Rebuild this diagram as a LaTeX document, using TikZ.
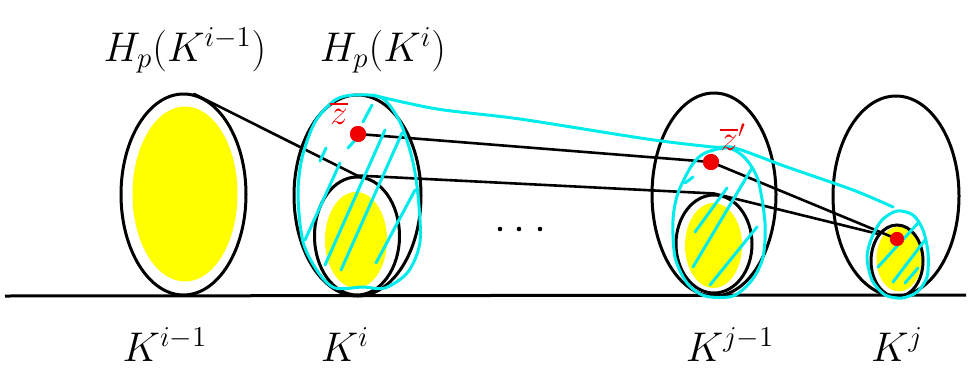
\documentclass[tikz,border=0pt]{standalone}
\usepackage{amsmath}
\usepackage{tikz}
\usetikzlibrary{shapes.geometric}
\definecolor{hullcyan}{RGB}{0,235,235}
\definecolor{fillyellow}{RGB}{255,255,0}
\definecolor{ptred}{RGB}{240,0,0}

\begin{document}
\begin{tikzpicture}[x=1pt,y=-1pt,
    kset/.style={ellipse,draw=black,line width=3pt},
    core/.style={ellipse,fill=fillyellow,draw=none},
    hull/.style={draw=hullcyan,line width=3pt,line cap=round,line join=round},
    seg/.style={draw=black,line width=2.6pt,line cap=round},
    zpt/.style={circle,fill=ptred,inner sep=0pt,minimum size=16pt},
    lab/.style={font=\huge,scale=2},
    zlab/.style={text=ptred,font=\huge,scale=1.7,inner sep=0pt}]
\useasboundingbox (0,0) rectangle (971,391);

% yellow cores
\node[core,minimum width=105pt,minimum height=175pt] (Y1) at (185,194) {};
\node[core,minimum width=62pt,minimum height=96pt] (Y2) at (356,240) {};
\node[core,minimum width=57pt,minimum height=85pt] (Y3) at (713.5,245.5) {};
\node[core,minimum width=45pt,minimum height=65pt] (Y4) at (899,259) {};

% ground line
\coordinate (gl) at (5,296);
\coordinate (gr) at (966,295);
\draw[line width=3pt] (gl) -- (gr);

% the sets K
\node[kset,minimum width=125pt,minimum height=201pt] (K1) at (183.5,194.5) {};
\node[kset,minimum width=127pt,minimum height=201pt] (K2) at (357.5,195.5) {};
\node[kset,minimum width=85pt,minimum height=118pt] (K2in) at (357,236) {};
\node[kset,minimum width=124pt,minimum height=203pt] (K3) at (714,194.5) {};
\node[kset,minimum width=76pt,minimum height=98pt] (K3in) at (714,244) {};
\node[kset,minimum width=126pt,minimum height=200pt] (K4) at (896,196) {};
\node[kset,minimum width=52pt,minimum height=72pt] (K4in) at (897,261) {};

% points
\node[zpt] (zbar) at (358,134) {};
\node[zpt] (zpr) at (711,162) {};
\node[zpt,minimum size=14pt] (zj) at (897,239) {};

\draw[seg] (K1.84) -- (K2in.north) -- (K3in.north) -- (K4in.125);
\draw[seg] (zbar) -- (zpr) -- (zj);

% hulls
\draw[hull] plot[smooth cycle] coordinates {(355,95) (382,98) (400,122) (412,158) (418,195) (420,242) (408,272) (385,288) (363,287) (335,288) (318,272) (303,242) (298,195) (302,158) (315,122) (335,100)};
\draw[hull] plot[smooth] coordinates {(372,95) (437,109) (520,119) (647,139) (713,147) (735,148) (787,167) (853,190) (893,207)};
\draw[hull] plot[smooth cycle] coordinates {(728,148) (745,158) (758,180) (765,223) (763,257) (752,280) (733,296) (705,296) (687,283) (675,257) (673,220) (678,193) (692,165) (705,153)};
\draw[hull] plot[smooth cycle] coordinates {(897,211) (913,215) (923,230) (928,253) (927,277) (917,292) (902,298) (885,295) (872,280) (867,257) (872,237) (882,220)};

% hatching
\foreach \xa/\ya/\xb/\yb in {305/240/340/163, 320/161/326/148, 325/265/385/130,
    341/270/402/133, 376/263/415/190, 348/148/357/138, 363/122/372/105,
    695/232/727/188, 693/267/752/168, 710/285/757/227, 685/183/693/177,
    878/267/918/223, 893/282/925/240, 905/283/918/268}
  \draw[hull] (\xa,\ya) -- (\xb,\yb);

\node[zpt] at (zbar) {};
\node[zpt] at (zpr) {};
\node[zpt,minimum size=14pt] at (zj) {};

% dots
\foreach \x in {500,519,540}
  \fill (\x,229) circle (2.3);

% labels
\node[lab] (HK1) at (185,50) {$H_p(K^{i-1})$};
\node[lab] (HK2) at (383,50) {$H_p(K^{i})$};
\node[lab] (L1) at (165,345) {$K^{i-1}$};
\node[lab] (L2) at (345,345) {$K^{i}$};
\node[lab] (L3) at (730,345) {$K^{j-1}$};
\node[lab] (L4) at (897,345) {$K^{j}$};
\node[zlab] (zbarlab) at (339,113) {$\overline{z}$};
\node[zlab] (zprlab) at (733,137) {$\overline{z}'$};

\end{tikzpicture}
\end{document}
